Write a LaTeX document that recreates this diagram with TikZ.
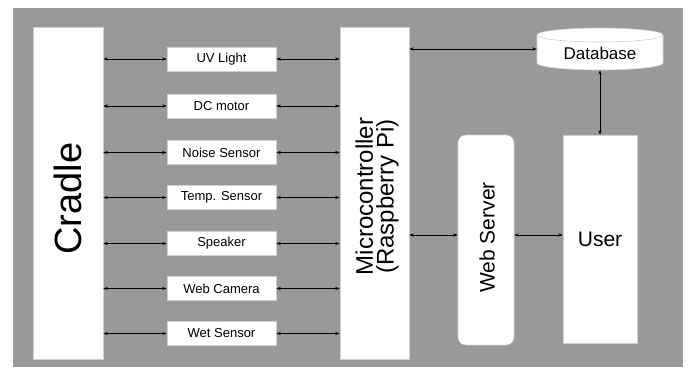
\documentclass[tikz,border=0pt]{standalone}
\usepackage{fontspec}
\setmainfont{Liberation Sans}
\usetikzlibrary{arrows.meta}
\definecolor{bggray}{HTML}{999999}
\definecolor{rim}{HTML}{D0D0D0}
\begin{document}
\begin{tikzpicture}[x=1pt,y=-1pt,
  wbox/.style={draw=rim, line width=0.6pt, fill=white, inner sep=0pt},
  dev/.style={wbox, minimum width=109pt, minimum height=24pt, font=\fontsize{13}{15}\selectfont},
  lbl/.style={inner sep=0pt},
  link/.style={line width=0.7pt, {Stealth[length=4.5pt,width=3.2pt]}-{Stealth[length=4.5pt,width=3.2pt]}}
]
\useasboundingbox (0,0) rectangle (688,367);
\fill[bggray] (13,8) rectangle (683,367);

\node[wbox, minimum width=70pt, minimum height=332pt] (cradle) at (68,193) {};
\node[lbl, font=\fontsize{38}{40}\selectfont] (cradlelbl) at (68,198.5) {\rotatebox{90}{Cradle}};
\node[wbox, minimum width=69pt, minimum height=332pt] (micro) at (374.5,193) {};
\node[lbl, font=\fontsize{24}{23}\selectfont] (microlbl) at (377,196.5)
  {\rotatebox{90}{\shortstack{Microcontroller\\(Raspberry Pi)}}};

\node[dev] (uv) at (221.5,59) {UV Light};
\node[dev] (dc) at (221.5,106) {DC motor};
\node[dev] (noise) at (221.5,152.5) {Noise Sensor};
\node[dev] (temp) at (221.5,197.5) {Temp. Sensor};
\node[dev] (spk) at (221.5,243.5) {Speaker};
\node[dev] (cam) at (221.5,288.5) {Web Camera};
\node[dev] (wet) at (221.5,333.5) {Wet Sensor};

\foreach \n in {uv,dc,noise,temp,spk,cam,wet}{
  \draw[link] (cradle.east |- \n) -- (\n.west);
  \draw[link] (\n.east) -- (\n.east -| micro.west);
}

% database cylinder
\fill[white] (537,35) arc[start angle=180,end angle=0,x radius=63pt,y radius=7pt]
  -- (663,63) arc[start angle=0,end angle=-180,x radius=63pt,y radius=7pt] -- cycle;
\draw[rim, line width=0.6pt] (537,35) arc[start angle=180,end angle=540,x radius=63pt,y radius=7pt];
\draw[rim, line width=0.6pt] (537,35) -- (537,63) arc[start angle=180,end angle=360,x radius=63pt,y radius=7pt] -- (663,35);
\node[inner sep=0pt, minimum width=126pt, minimum height=42pt] (db) at (600,49) {};
\node[lbl, font=\fontsize{17}{19}\selectfont] (dblbl) at (600,53) {Database};

\node[wbox, rounded corners=8pt, minimum width=56pt, minimum height=210pt] (ws) at (486,240) {};
\node[lbl, font=\fontsize{21}{23}\selectfont] (wslbl) at (487,237.5) {\rotatebox{90}{Web Server}};
\node[wbox, minimum width=74pt, minimum height=208pt, font=\fontsize{21}{23}\selectfont] (user) at (600,239) {User};

\coordinate (lvl) at (0,235);
\draw[link] (micro.east |- db) -- (db.west);
\draw[link] (db.south) -- (user.north);
\draw[link] (micro.east |- lvl) -- (ws.west |- lvl);
\draw[link] (ws.east |- lvl) -- (user.west |- lvl);
\end{tikzpicture}
\end{document}
